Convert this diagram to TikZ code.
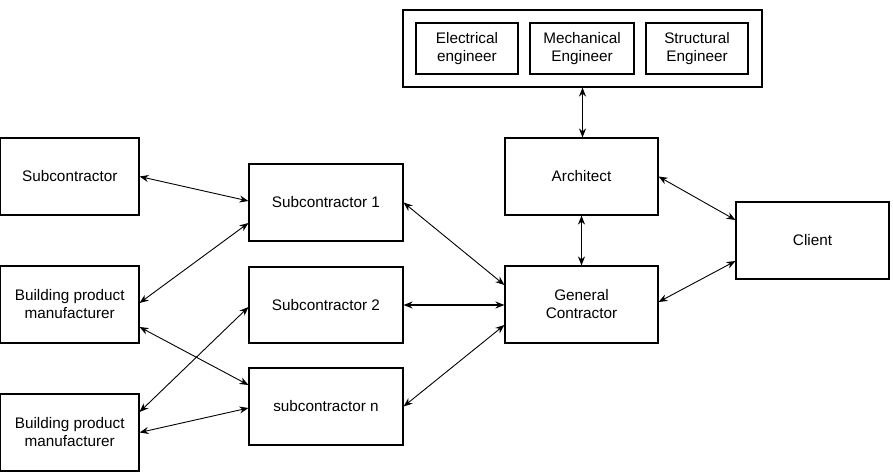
\documentclass[tikz,border=0pt]{standalone}
\usepackage{fontspec}
\setmainfont{Liberation Sans}
\usetikzlibrary{arrows.meta}
\begin{document}
\begin{tikzpicture}[x=1pt,y=-1pt,
  box/.style={draw=black,line width=1.1pt,inner sep=0pt,align=center,
    font=\fontsize{15.3}{18}\selectfont},
  link/.style={{Stealth[length=9pt,width=7pt]}-{Stealth[length=9pt,width=7pt]},line width=0.9pt},
  thick link/.style={link,line width=1.7pt}]
\useasboundingbox (0,0) rectangle (893,474);
\newcommand{\bx}[6]{\node[box,minimum width={#4-#2},minimum height={#5-#3}] (#1) at ({(#2+#4)/2},{(#3+#5)/2}) {#6};}
\bx{sc}{0.5}{138}{139}{215}{Subcontractor}
\bx{bpma}{0.5}{266}{139}{343}{Building product\\manufacturer}
\bx{bpmb}{0.5}{394}{139}{471}{Building product\\manufacturer}
\bx{sa}{249}{164}{403}{241}{Subcontractor 1}
\bx{sb}{249}{267}{403}{343}{Subcontractor 2}
\bx{sn}{249}{368}{403}{445}{subcontractor n}
\bx{arch}{505}{138}{658}{215}{Architect}
\bx{gc}{505}{266}{658}{343}{General\\Contractor}
\bx{client}{736}{202}{889}{279}{Client}
\bx{top}{403}{10}{762}{87}{}
\bx{ee}{416}{23}{518}{74}{Electrical\\engineer}
\bx{me}{530}{23}{634}{74}{Mechanical\\Engineer}
\bx{se}{646}{23}{748}{74}{Structural\\Engineer}
% connectors
\draw[link] (sc.east) -- ([yshift=1.5pt]sa.west);
\draw[link] ([yshift=-20.5pt]sa.west) -- ([yshift=1.5pt]bpma.east);
\draw[link] ([yshift=-22.5pt]bpma.east) -- ([yshift=21.5pt]sn.west);
\draw[link] ([yshift=-2pt]sb.west) -- ([yshift=20.5pt]bpmb.east);
\draw[link] (bpmb.east) -- ([yshift=-1.5pt]sn.west);
\draw[link] (sa.east) -- ([yshift=19.5pt]gc.west);
\draw[thick link] (sb.east) -- (sb.east -| gc.west);
\draw[link] (sn.east) -- ([yshift=-20.5pt]gc.west);
\draw[thick link] (top.south) -- (top.south |- arch.north);
\draw[thick link] (arch.south) -- (gc.north);
\draw[link] (arch.east) -- ([yshift=20.5pt]client.west);
\draw[link] ([yshift=2.5pt]gc.east) -- ([yshift=-20.5pt]client.west);
\end{tikzpicture}
\end{document}
